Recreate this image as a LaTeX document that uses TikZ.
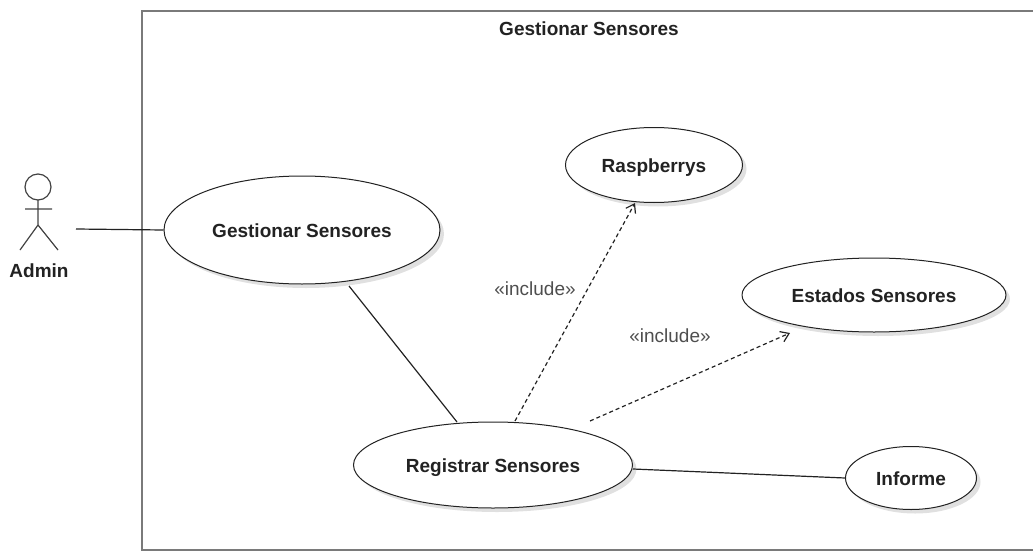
\documentclass[tikz,border=0pt]{standalone}
\usepackage{fontspec}
\setmainfont{Liberation Sans}
\usetikzlibrary{arrows.meta,shadows,shapes.geometric}
\definecolor{ink}{HTML}{222222}
\tikzset{
 usecase/.style={draw=ink,line width=1pt,fill=white,shape=ellipse,inner sep=0pt,text height=14pt,text depth=0pt,
   drop shadow={shadow xshift=4pt,shadow yshift=-4pt,fill=black,opacity=0.12},font=\bfseries\fontsize{19}{22}\selectfont,text=ink},
 lbl/.style={font=\fontsize{19}{22}\selectfont,text=ink!80},
 link/.style={draw=ink,line width=1.2pt},
 inc/.style={draw=ink,line width=1.2pt,dash pattern=on 4pt off 3pt,-{Straight Barb[length=8pt,width=11pt]}},
}
\begin{document}
\begin{tikzpicture}[x=1pt,y=-1pt]
\useasboundingbox (0,0) rectangle (1033,551);
\draw[draw=ink!60,line width=1.5pt] (1033,11) -- (142,11) -- (142,550) -- (1033,550);
\node[font=\bfseries\fontsize{19}{22}\selectfont,text=ink] (title) at (589,29) {Gestionar Sensores};
\node[usecase,minimum width=276pt,minimum height=108pt] (gs) at (302,230) {Gestionar Sensores};
\node[usecase,minimum width=177pt,minimum height=75pt] (ra) at (654,165) {Raspberrys};
\node[usecase,minimum width=264pt,minimum height=74pt] (es) at (874,295) {Estados Sensores};
\node[usecase,minimum width=279pt,minimum height=86pt] (rs) at (493,465) {Registrar Sensores};
\node[usecase,minimum width=131pt,minimum height=63pt] (in) at (911,478) {Informe};
\draw[draw=ink!85,line width=1.2pt] (38,187) circle (13);
\draw[draw=ink!85,line width=1.2pt] (38,200) -- (38,225) (25,209) -- (52,209) (20,250) -- (38,225) -- (58,250);
\node[font=\bfseries\fontsize{19}{22}\selectfont,text=ink] (adm) at (39,271) {Admin};
\coordinate (a1) at (76,229);
\draw[link] (a1) -- (gs.west);
\coordinate (g1) at (349,286);
\coordinate (r1) at (457,422);
\draw[link] (g1) -- (r1);
\coordinate (r2) at (633,469);
\draw[link] (r2) -- (in.west);
\coordinate (r3) at (515,421);
\coordinate (r4) at (635,203);
\coordinate (r5) at (590,421);
\coordinate (r6) at (790,333);
\draw[inc] (r3) -- (r4);
\draw[inc] (r5) -- (r6);
\node[lbl] (l1) at (535,289) {«include»};
\node[lbl] (l2) at (670,336) {«include»};
\end{tikzpicture}
\end{document}
